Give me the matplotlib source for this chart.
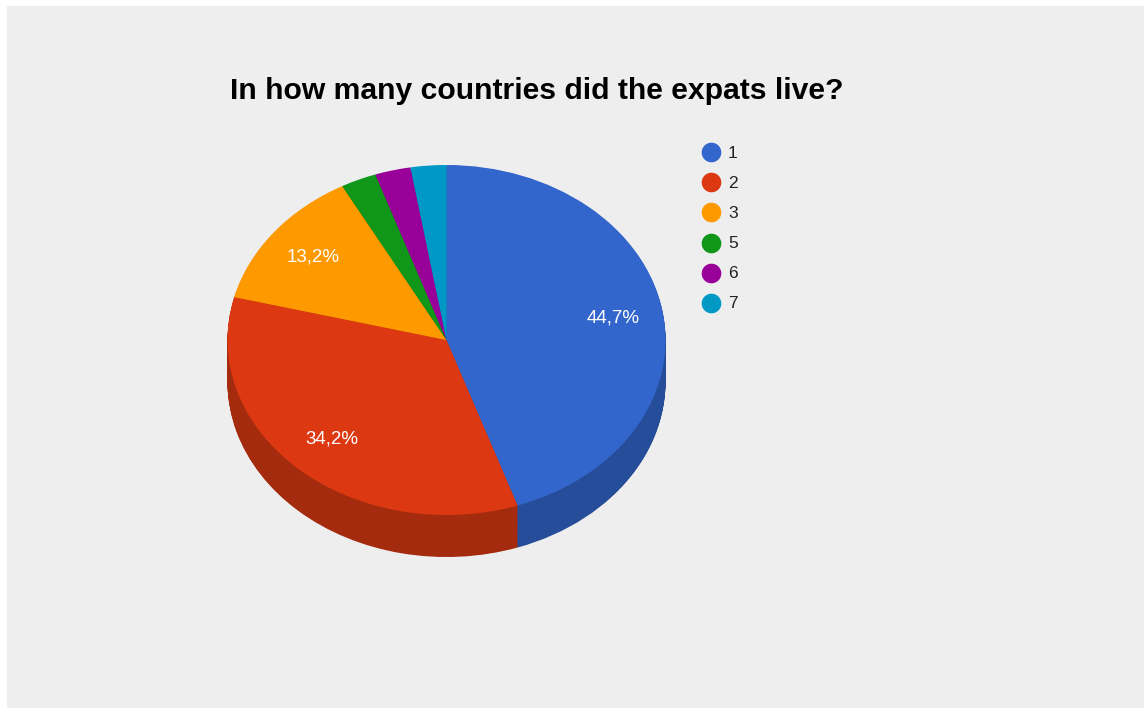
import numpy as np
import matplotlib.pyplot as plt
import matplotlib.colors as mcolors

# countries lived in -> number of expats
labels = ['1', '2', '3', '5', '6', '7']
counts = [17, 13, 5, 1, 1, 1]
colors = ['#3366cc', '#dc3912', '#ff9900', '#109618', '#990099', '#0099c6']

W, H = 1144, 708
cx, cy = 446.5, 340.0      # pie centre in pixels
rx, ry = 219.0, 175.0      # ellipse radii in pixels
depth = 42.0               # thickness of the 3d side

plt.rcParams['font.family'] = ['Liberation Sans', 'DejaVu Sans']
fig = plt.figure(figsize=(W / 100, H / 100), dpi=100)
fig.patch.set_facecolor('white')

# pixel axes for background, title and legend
bg = fig.add_axes([0, 0, 1, 1])
bg.set_xlim(0, W)
bg.set_ylim(H, 0)
bg.axis('off')
bg.add_patch(plt.Rectangle((7, 6), W - 7, H - 6, facecolor='#eeeeee', edgecolor='none'))
bg.text(537, 91, 'In how many countries did the expats live?', ha='center', va='center',
        fontsize=21.7, fontweight='bold', color='#000000')
for i, (lab, col) in enumerate(zip(labels, colors)):
    y = 152 + i * 30.2
    bg.scatter([711], [y], s=200, color=col, zorder=3, linewidths=0)
    bg.text(728, y + 1, lab, ha='left', va='center', fontsize=12.5, color='#222222')

# pie axes: one data unit = rx px across, ry px down
ax = fig.add_axes([0, 0, 1, 1])
ax.patch.set_alpha(0)
dark = [mcolors.to_hex(np.array(mcolors.to_rgb(c)) * 0.75) for c in colors]

# side wall: stack of darker pies shifted down
d = depth / ry
n = 60
for k in range(n, 0, -1):
    ax.pie(counts, colors=dark, startangle=90, counterclock=False, radius=1,
           center=(0, -d * k / n), wedgeprops=dict(linewidth=0))

wedges, texts, autotexts = ax.pie(
    counts, colors=colors, startangle=90, counterclock=False, radius=1,
    center=(0, 0), wedgeprops=dict(linewidth=0), pctdistance=0.77,
    autopct=lambda p: (f'{p:.1f}%'.replace('.', ',') if p > 5 else ''),
    textprops=dict(color='white', fontsize=13.5))

ax.set_aspect('auto')
ax.set_xlim(-cx / rx, (W - cx) / rx)
ax.set_ylim((cy - H) / ry, cy / ry)
ax.axis('off')

fig.savefig('out.png', dpi=100, facecolor=fig.get_facecolor())
